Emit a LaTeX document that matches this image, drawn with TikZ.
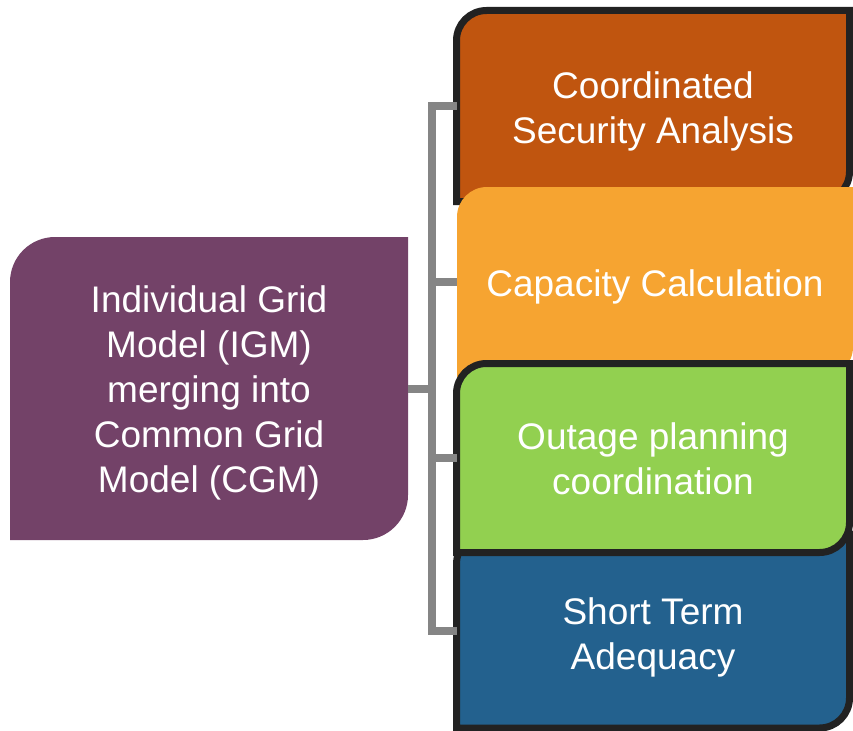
\documentclass[tikz,border=0pt]{standalone}
\usepackage{fontspec}
\setmainfont{Liberation Sans}
\usetikzlibrary{positioning,backgrounds}

\definecolor{igmpurple}{HTML}{734268}
\definecolor{csaorange}{HTML}{C0550F}
\definecolor{ccorange}{HTML}{F6A431}
\definecolor{opcgreen}{HTML}{92D050}
\definecolor{stablue}{HTML}{23618E}
\definecolor{linkgray}{HTML}{858585}
\definecolor{edgeblack}{HTML}{222222}

% tab: rounded top left and bottom right corners
\newcommand{\tabshape}[3]{%
    \path[#3] (#1.north east) -- ([yshift=#2]#1.south east) arc (0:-90:#2)
        -- (#1.south west) -- ([yshift=-#2]#1.north west) arc (180:90:#2) -- cycle;}

\begin{document}
\begin{tikzpicture}[x=1pt, y=1pt,
    box/.style={text=white, align=center, font=\fontsize{37}{45}\selectfont,
        inner sep=0pt, outer sep=0pt},
    textdrop/.style={execute at begin node={\rule{0pt}{#1}}},
    edge/.style={draw=edgeblack, line width=7pt},
    link/.style={draw=linkgray, line width=8pt}]
\useasboundingbox (0,0) rectangle (853,-730);

% model merging on the left
\node[box, textdrop=215.3pt, minimum width=398pt, minimum height=303pt] (igm) at (209,-388.5)
    {Individual Grid\\Model (IGM)\\merging into\\Common Grid\\Model (CGM)};

% the four tasks
\node[box, textdrop=82.3pt, minimum width=393pt, minimum height=191pt] (csa) at (653,-106)
    {Coordinated\\Security Analysis};
\node[box, textdrop=37.3pt, minimum width=396pt, minimum height=190pt] (cc) at (655,-282)
    {Capacity Calculation};
\node[box, textdrop=74.3pt, minimum width=393pt, minimum height=189pt] (opc) at (653,-458)
    {Outage planning\\coordination};
\node[box, textdrop=84.3pt, minimum width=393pt, minimum height=194pt] (sta) at (653,-631)
    {Short Term\\Adequacy};

\begin{pgfonlayer}{background}
    \tabshape{igm}{45pt}{fill=igmpurple}
    \tabshape{csa}{30pt}{fill=csaorange, edge}
    \tabshape{cc}{30pt}{fill=ccorange}
    \tabshape{sta}{30pt}{fill=stablue, edge}
    \tabshape{opc}{30pt}{fill=opcgreen, edge}
\end{pgfonlayer}

% bracket
\coordinate[right=24pt of igm.east] (hub);
\draw[link] (igm.east) -- (hub);
\foreach \task in {csa,cc,opc,sta}
    \draw[link] (hub) |- (\task.west);

\end{tikzpicture}
\end{document}
